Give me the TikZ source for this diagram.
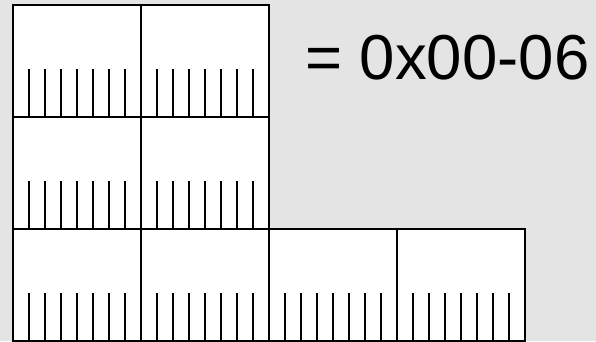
\documentclass[tikz,border=0pt]{standalone}
\usepackage{fontspec}
\setmainfont{Liberation Sans}
\usetikzlibrary{calc}
\begin{document}
\begin{tikzpicture}[x=1pt,y=-1pt,
  blockbox/.style={draw=black,fill=white,line width=1.8pt,minimum width=128pt,minimum height=112pt,inner sep=0pt,outer sep=0pt,anchor=north west},
  tick/.style={draw=black,line width=1.8pt}]
\fill[fill={rgb,255:red,228;green,228;blue,228}] (0,0) rectangle (596,341);
\useasboundingbox (0,0) rectangle (596,341);
\foreach \name/\cx/\cy in {a/0/0,b/1/0,c/0/1,d/1/1,e/0/2,f/1/2,g/2/2,h/3/2}{
  \node[blockbox] (\name) at ({13+128*\cx},{5+112*\cy}) {};
  \foreach \k in {1,...,7}{
    \draw[tick] ($(\name.south west)!\k/8!(\name.south east)$) -- ++(0,-48);
  }
}
\node[anchor=base west,inner sep=0pt,font=\fontsize{63.5}{70}\selectfont] (lbl) at (305,79) {= 0x00-06};
\end{tikzpicture}
\end{document}
